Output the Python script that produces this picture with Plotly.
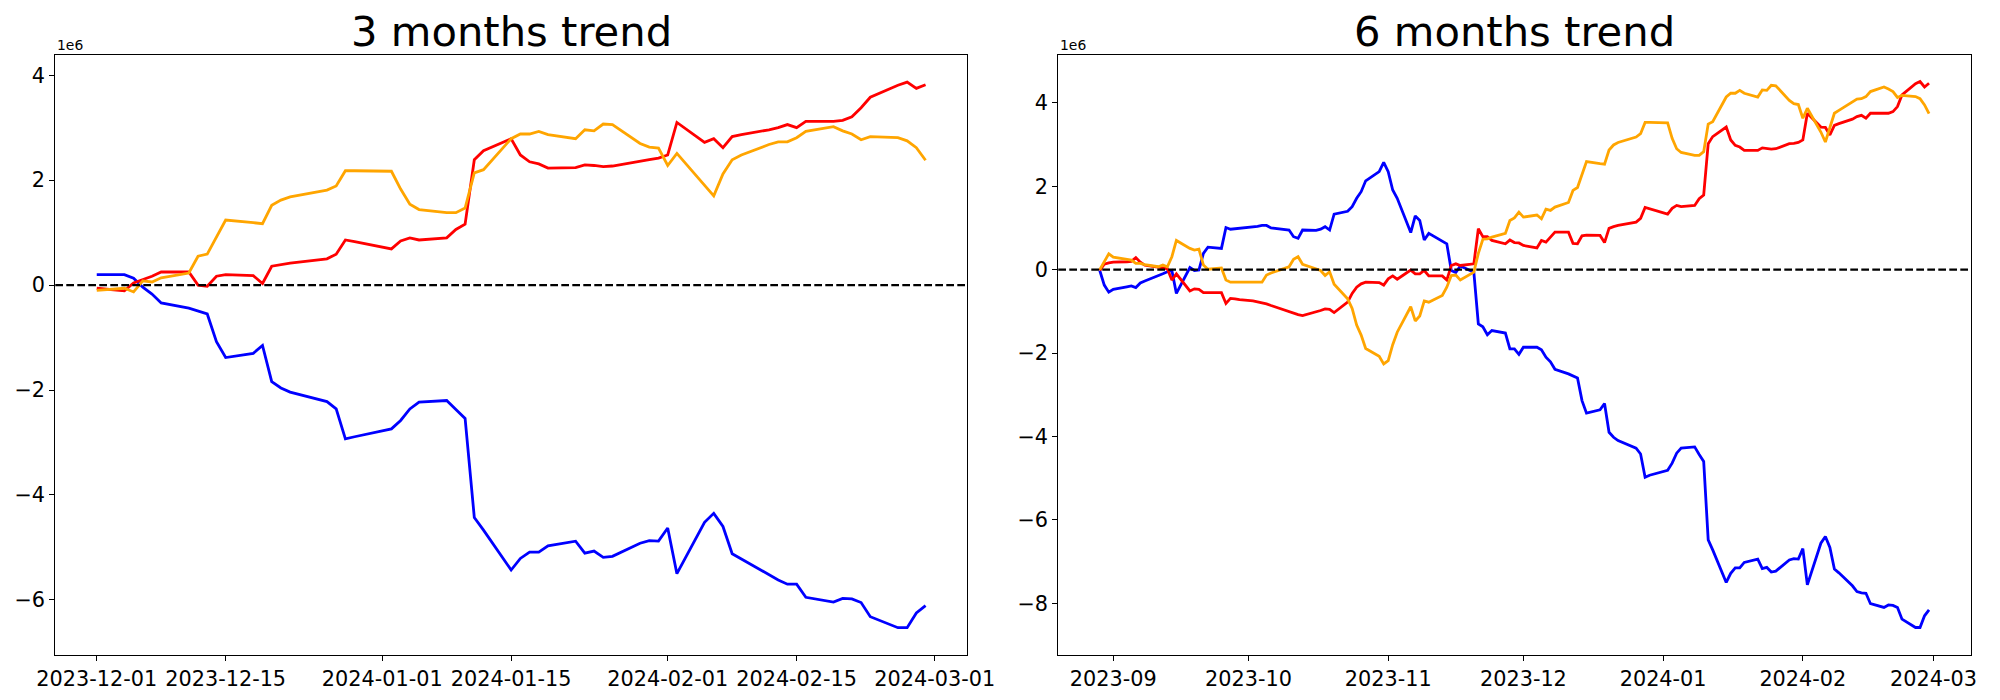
import plotly.graph_objects as go

# ---------------- 3 months data (values in units of 1e6) ----------------
dates_3m = [
    "2023-12-01",
    "2023-12-04", "2023-12-05", "2023-12-06", "2023-12-07", "2023-12-08",
    "2023-12-11", "2023-12-12", "2023-12-13", "2023-12-14", "2023-12-15",
    "2023-12-18", "2023-12-19", "2023-12-20", "2023-12-21", "2023-12-22",
    "2023-12-26", "2023-12-27", "2023-12-28", "2023-12-29",
    "2024-01-02", "2024-01-03", "2024-01-04", "2024-01-05",
    "2024-01-08", "2024-01-09", "2024-01-10", "2024-01-11", "2024-01-12",
    "2024-01-15", "2024-01-16", "2024-01-17", "2024-01-18", "2024-01-19",
    "2024-01-22", "2024-01-23", "2024-01-24", "2024-01-25", "2024-01-26",
    "2024-01-29", "2024-01-30", "2024-01-31", "2024-02-01", "2024-02-02",
    "2024-02-05", "2024-02-06", "2024-02-07", "2024-02-08", "2024-02-09",
    "2024-02-12", "2024-02-13", "2024-02-14", "2024-02-15", "2024-02-16",
    "2024-02-19", "2024-02-20", "2024-02-21", "2024-02-22", "2024-02-23",
    "2024-02-26", "2024-02-27", "2024-02-28", "2024-02-29",
]
blue_3m = [
    0.20,
    0.20, 0.13, -0.04, -0.17, -0.34,
    -0.44, -0.50, -0.55, -1.08, -1.38,
    -1.30, -1.15, -1.84, -1.96, -2.04,
    -2.22, -2.36, -2.93, -2.89,
    -2.74, -2.58, -2.36, -2.23,
    -2.20, -2.37, -2.54, -4.43, -4.67,
    -5.43, -5.21, -5.09, -5.09, -4.97,
    -4.88, -5.11, -5.07, -5.19, -5.17,
    -4.92, -4.87, -4.88, -4.63, -5.50,
    -4.52, -4.35, -4.60, -5.12, -5.22,
    -5.52, -5.62, -5.70, -5.70, -5.95,
    -6.04, -5.97, -5.98, -6.05, -6.32,
    -6.53, -6.53, -6.25, -6.11,
]
red_3m = [
    -0.06,
    -0.11, 0.04, 0.10, 0.17, 0.25,
    0.25, 0.00, -0.02, 0.17, 0.20,
    0.18, 0.03, 0.36, 0.39, 0.42,
    0.50, 0.59, 0.86, 0.83,
    0.69, 0.84, 0.90, 0.86,
    0.90, 1.06, 1.16, 2.39, 2.56,
    2.79, 2.48, 2.35, 2.31, 2.23,
    2.24, 2.29, 2.28, 2.26, 2.27,
    2.37, 2.39, 2.42, 2.48, 3.10,
    2.72, 2.79, 2.62, 2.83, 2.87,
    2.96, 3.00, 3.06, 3.00, 3.12,
    3.12, 3.14, 3.21, 3.38, 3.58,
    3.81, 3.87, 3.75, 3.82,
]
orange_3m = [
    -0.10,
    -0.06, -0.13, 0.08, 0.06, 0.14,
    0.23, 0.55, 0.59, 0.92, 1.24,
    1.19, 1.17, 1.52, 1.62, 1.68,
    1.81, 1.89, 2.18, 2.18,
    2.17, 1.83, 1.54, 1.44,
    1.38, 1.38, 1.47, 2.14, 2.20,
    2.79, 2.88, 2.88, 2.93, 2.87,
    2.79, 2.96, 2.94, 3.07, 3.06,
    2.70, 2.63, 2.61, 2.28, 2.51,
    1.90, 1.70, 2.12, 2.39, 2.48,
    2.68, 2.73, 2.73, 2.81, 2.93,
    3.02, 2.94, 2.88, 2.77, 2.83,
    2.81, 2.75, 2.62, 2.38,
]

# ---------------- 6 months data (values in units of 1e6) ----------------
dates_6m = [
    "2023-08-29", "2023-08-30", "2023-08-31", "2023-09-01",
    "2023-09-04", "2023-09-05", "2023-09-06", "2023-09-07", "2023-09-08",
    "2023-09-11", "2023-09-12", "2023-09-13", "2023-09-14", "2023-09-15",
    "2023-09-18", "2023-09-19", "2023-09-20", "2023-09-21", "2023-09-22",
    "2023-09-25", "2023-09-26", "2023-09-27", "2023-09-28", "2023-09-29",
    "2023-10-02", "2023-10-03", "2023-10-04", "2023-10-05", "2023-10-06",
    "2023-10-09", "2023-10-10", "2023-10-11", "2023-10-12", "2023-10-13",
    "2023-10-16", "2023-10-17", "2023-10-18", "2023-10-19", "2023-10-20",
    "2023-10-23", "2023-10-24", "2023-10-25", "2023-10-26", "2023-10-27",
    "2023-10-30", "2023-10-31", "2023-11-01", "2023-11-02", "2023-11-03",
    "2023-11-06", "2023-11-07", "2023-11-08", "2023-11-09", "2023-11-10",
    "2023-11-13", "2023-11-14", "2023-11-15", "2023-11-16", "2023-11-17",
    "2023-11-20", "2023-11-21", "2023-11-22", "2023-11-23", "2023-11-24",
    "2023-11-27", "2023-11-28", "2023-11-29", "2023-11-30", "2023-12-01",
    "2023-12-04", "2023-12-05", "2023-12-06", "2023-12-07", "2023-12-08",
    "2023-12-11", "2023-12-12", "2023-12-13", "2023-12-14", "2023-12-15",
    "2023-12-18", "2023-12-19", "2023-12-20", "2023-12-21", "2023-12-22",
    "2023-12-26", "2023-12-27", "2023-12-28", "2023-12-29",
    "2024-01-02", "2024-01-03", "2024-01-04", "2024-01-05",
    "2024-01-08", "2024-01-09", "2024-01-10", "2024-01-11", "2024-01-12",
    "2024-01-15", "2024-01-16", "2024-01-17", "2024-01-18", "2024-01-19",
    "2024-01-22", "2024-01-23", "2024-01-24", "2024-01-25", "2024-01-26",
    "2024-01-29", "2024-01-30", "2024-01-31", "2024-02-01", "2024-02-02",
    "2024-02-05", "2024-02-06", "2024-02-07", "2024-02-08", "2024-02-09",
    "2024-02-12", "2024-02-13", "2024-02-14", "2024-02-15", "2024-02-16",
    "2024-02-19", "2024-02-20", "2024-02-21", "2024-02-22", "2024-02-23",
    "2024-02-26", "2024-02-27", "2024-02-28", "2024-02-29",
]
blue_6m = [
    -0.02, -0.37, -0.54, -0.47,
    -0.41, -0.39, -0.43, -0.32, -0.27,
    -0.15, -0.10, -0.05, -0.02, -0.57,
    0.05, -0.02, -0.01, 0.39, 0.54,
    0.51, 1.01, 0.97, 0.98, 0.99,
    1.02, 1.04, 1.06, 1.06, 1.00,
    0.97, 0.95, 0.79, 0.75, 0.95,
    0.94, 0.97, 1.03, 0.95, 1.33,
    1.40, 1.51, 1.71, 1.87, 2.13,
    2.35, 2.57, 2.35, 1.91, 1.71,
    0.89, 1.29, 1.18, 0.71, 0.87,
    0.67, 0.62, -0.02, -0.07, 0.09,
    -0.06, -1.30, -1.37, -1.56, -1.46,
    -1.52, -1.90, -1.90, -2.03, -1.86,
    -1.86, -1.92, -2.10, -2.21, -2.39,
    -2.50, -2.55, -2.60, -3.14, -3.44,
    -3.36, -3.21, -3.90, -4.02, -4.10,
    -4.28, -4.42, -4.98, -4.93,
    -4.81, -4.64, -4.40, -4.28,
    -4.25, -4.43, -4.60, -6.48, -6.72,
    -7.50, -7.28, -7.15, -7.15, -7.02,
    -6.94, -7.17, -7.14, -7.25, -7.23,
    -6.96, -6.93, -6.94, -6.69, -7.56,
    -6.56, -6.40, -6.66, -7.18, -7.27,
    -7.58, -7.72, -7.75, -7.76, -8.01,
    -8.10, -8.04, -8.05, -8.10, -8.38,
    -8.58, -8.58, -8.30, -8.16,
]
red_6m = [
    -0.02, 0.13, 0.16, 0.18,
    0.19, 0.20, 0.29, 0.18, 0.11,
    0.07, 0.04, 0.02, -0.25, -0.10,
    -0.51, -0.46, -0.47, -0.55, -0.55,
    -0.55, -0.81, -0.69, -0.70, -0.72,
    -0.75, -0.77, -0.79, -0.82, -0.86,
    -0.97, -1.02, -1.06, -1.08, -1.10,
    -1.02, -0.98, -0.94, -0.95, -1.03,
    -0.78, -0.57, -0.42, -0.34, -0.30,
    -0.31, -0.37, -0.22, -0.15, -0.23,
    -0.01, -0.10, -0.10, -0.02, -0.15,
    -0.15, -0.25, 0.10, 0.14, 0.10,
    0.14, 0.98, 0.79, 0.79, 0.70,
    0.62, 0.71, 0.65, 0.64, 0.58,
    0.52, 0.70, 0.66, 0.78, 0.90,
    0.90, 0.63, 0.62, 0.81, 0.83,
    0.82, 0.65, 0.99, 1.03, 1.06,
    1.14, 1.23, 1.49, 1.46,
    1.33, 1.47, 1.54, 1.51,
    1.54, 1.70, 1.79, 3.02, 3.19,
    3.42, 3.11, 2.98, 2.94, 2.86,
    2.86, 2.92, 2.90, 2.89, 2.90,
    3.02, 3.03, 3.05, 3.11, 3.75,
    3.42, 3.41, 3.23, 3.46, 3.50,
    3.61, 3.67, 3.70, 3.63, 3.75,
    3.75, 3.75, 3.79, 3.91, 4.19,
    4.46, 4.51, 4.38, 4.47,
]
orange_6m = [
    0.00, 0.19, 0.38, 0.30,
    0.25, 0.23, 0.15, 0.15, 0.12,
    0.07, 0.11, 0.07, 0.31, 0.70,
    0.51, 0.47, 0.49, 0.11, 0.01,
    0.04, -0.25, -0.30, -0.30, -0.30,
    -0.30, -0.30, -0.30, -0.13, -0.08,
    0.03, 0.07, 0.25, 0.31, 0.13,
    0.03, -0.02, -0.14, -0.05, -0.35,
    -0.70, -0.93, -1.33, -1.57, -1.89,
    -2.08, -2.26, -2.18, -1.80, -1.50,
    -0.89, -1.23, -1.11, -0.75, -0.78,
    -0.62, -0.42, -0.14, -0.13, -0.25,
    -0.06, 0.39, 0.73, 0.74, 0.78,
    0.87, 1.18, 1.24, 1.38, 1.26,
    1.31, 1.22, 1.45, 1.42, 1.50,
    1.61, 1.90, 1.97, 2.27, 2.59,
    2.54, 2.53, 2.87, 2.99, 3.05,
    3.18, 3.26, 3.53, 3.53,
    3.52, 3.15, 2.90, 2.81,
    2.74, 2.74, 2.83, 3.49, 3.55,
    4.14, 4.23, 4.23, 4.30, 4.23,
    4.14, 4.31, 4.30, 4.42, 4.41,
    4.06, 3.98, 3.96, 3.63, 3.87,
    3.30, 3.06, 3.40, 3.75, 3.82,
    4.01, 4.09, 4.10, 4.15, 4.27,
    4.38, 4.33, 4.27, 4.13, 4.18,
    4.15, 4.10, 3.95, 3.74,
]

# ---------------- tick labels ----------------
xticks_3m = ["2023-12-01", "2023-12-15", "2024-01-01", "2024-01-15",
             "2024-02-01", "2024-02-15", "2024-03-01"]
xticks_6m = ["2023-09-01", "2023-10-01", "2023-11-01", "2023-12-01",
             "2024-01-01", "2024-02-01", "2024-03-01"]
xticktext_6m = ["2023-09", "2023-10", "2023-11", "2023-12",
                "2024-01", "2024-02", "2024-03"]
yticks_3m = [-6, -4, -2, 0, 2, 4]
yticks_6m = [-8, -6, -4, -2, 0, 2, 4]
titles = ["3 months trend", "6 months trend"]

W, H = 2000, 700
OFF = 8  # page body margin of the html page
FONT = "DejaVu Sans"
LW = 2.8


def fmt(v):
    return ("\u2212" + str(abs(v))) if v < 0 else str(v)


def px_x(p):
    return (p - OFF) / W


def px_y(p):
    return 1 - (p - OFF) / H


fig = go.Figure()

series = [
    ("x", "y", dates_3m, [blue_3m, red_3m, orange_3m]),
    ("x2", "y2", dates_6m, [blue_6m, red_6m, orange_6m]),
]
colors = ["#0000ff", "#ff0000", "#ffa500"]
for xa, ya, d, vals in series:
    for v, c in zip(vals, colors):
        fig.add_trace(go.Scatter(x=d, y=v, mode="lines", xaxis=xa, yaxis=ya,
                                 line=dict(color=c, width=LW), showlegend=False,
                                 hoverinfo="skip"))

xd1 = [px_x(55.3), px_x(967.0)]
xd2 = [px_x(1058.3), px_x(1970.5)]
yd = [px_y(655.0), px_y(55.3)]

axis_common = dict(showline=True, linecolor="black", linewidth=1.1, mirror=True,
                   ticks="outside", ticklen=5, tickwidth=1.1, tickcolor="black",
                   showgrid=False, zeroline=False, automargin=False,
                   tickfont=dict(family=FONT, size=20.8, color="black"))

fig.update_layout(
    width=W, height=H, autosize=False,
    margin=dict(l=0, r=0, t=0, b=0),
    paper_bgcolor="white", plot_bgcolor="white",
    font=dict(family=FONT, color="black"),
    xaxis=dict(domain=xd1, anchor="y", type="date",
               range=["2023-11-26 12:00", "2024-03-04 12:00"],
               tickvals=xticks_3m, ticktext=xticks_3m, **axis_common),
    yaxis=dict(domain=yd, anchor="x", range=[-7.05, 4.38],
               tickvals=yticks_3m, ticktext=[fmt(v) for v in yticks_3m], **axis_common),
    xaxis2=dict(domain=xd2, anchor="y2", type="date",
                range=["2023-08-19 19:12", "2024-03-09 04:48"],
                tickvals=xticks_6m, ticktext=xticktext_6m, **axis_common),
    yaxis2=dict(domain=yd, anchor="x2", range=[-9.24, 5.14],
                tickvals=yticks_6m, ticktext=[fmt(v) for v in yticks_6m], **axis_common),
)

# dashed zero lines
for xa, ya in [("x", "y"), ("x2", "y2")]:
    fig.add_shape(type="line", xref=xa + " domain", yref=ya, x0=0, x1=1, y0=0, y1=0,
                  line=dict(color="black", width=2.1, dash="7.7px,3.3px"))

# titles and offset labels
for dom, t in zip([xd1, xd2], titles):
    fig.add_annotation(text=t, xref="paper", yref="paper", x=(dom[0] + dom[1]) / 2,
                       y=yd[1] - 3 / H, xanchor="center", yanchor="bottom", showarrow=False,
                       font=dict(family=FONT, size=41.7, color="black"))
    fig.add_annotation(text="1e6", xref="paper", yref="paper", x=dom[0],
                       y=yd[1] + 0 / H, xanchor="left", yanchor="bottom", showarrow=False,
                       font=dict(family=FONT, size=13.9, color="black"))

fig.write_html("out.html")
